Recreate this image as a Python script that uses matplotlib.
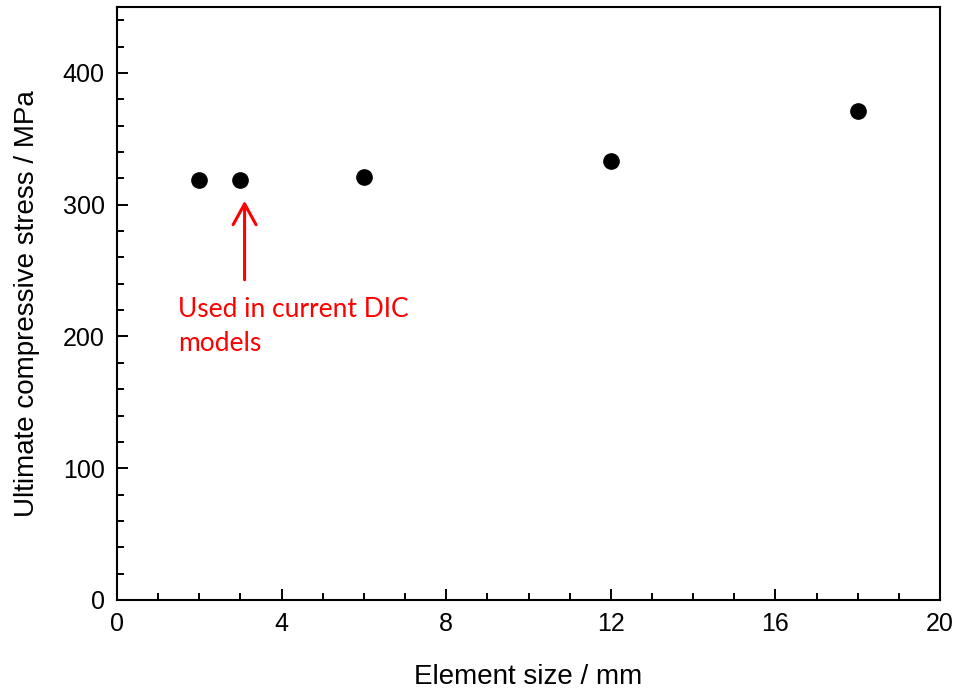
import numpy as np
import matplotlib.pyplot as plt
from matplotlib.ticker import MultipleLocator

# data
element_size = [2, 3, 6, 12, 18]
ucs = [318.5, 318.5, 321, 333.5, 371]

plt.rcParams['font.family'] = ['Liberation Sans', 'DejaVu Sans']

fig = plt.figure(figsize=(9.56, 6.91), dpi=100)
ax = fig.add_axes([0.1224, 0.1317, 0.8609, 0.8582])

ax.plot(element_size, ucs, 'o', color='black', markersize=11, linestyle='none')

ax.set_xlim(0, 20)
ax.set_ylim(0, 450)
ax.xaxis.set_major_locator(MultipleLocator(4))
ax.xaxis.set_minor_locator(MultipleLocator(1))
ax.yaxis.set_major_locator(MultipleLocator(100))
ax.yaxis.set_minor_locator(MultipleLocator(20))
ax.tick_params(which='both', direction='in', top=False, right=False, labelsize=18, width=1.4)
ax.tick_params(which='major', length=8, pad=9)
ax.tick_params(which='minor', length=5)
for s in ax.spines.values():
    s.set_linewidth(1.5)

ax.set_xlabel('Element size / mm', fontsize=20, labelpad=20)
ax.set_ylabel('Ultimate compressive stress / MPa', fontsize=20, labelpad=16)

# annotation
ax.annotate('', xy=(3.1, 303), xytext=(3.1, 243),
            arrowprops=dict(arrowstyle='->, head_width=0.55, head_length=1.0', color='red',
                            lw=2.2, mutation_scale=15, shrinkA=0, shrinkB=0))
ax.text(1.48, 230, 'Used in current DIC\nmodels', color='red', fontsize=19,
        family=['Lato', 'DejaVu Sans'], va='top', ha='left', linespacing=1.45)

fig.savefig('out.png', dpi=100)
